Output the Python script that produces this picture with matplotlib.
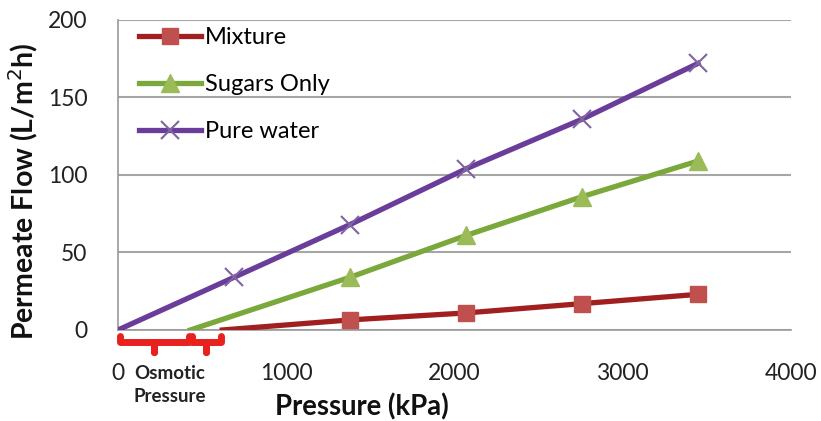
import matplotlib
matplotlib.use('Agg')
import matplotlib.pyplot as plt

plt.rcParams['font.family'] = ['Lato', 'DejaVu Sans']

# pressures (kPa); first point of each series is the osmotic-pressure intercept
pressure_mix = [620, 1379, 2069, 2758, 3447]
flow_mix = [0, 6.5, 11, 17, 23]

pressure_sugar = [430, 1379, 2069, 2758, 3447]
flow_sugar = [0, 34, 61, 86, 109]

pressure_water = [0, 690, 1379, 2069, 2758, 3447]
flow_water = [0, 34, 68, 104, 136, 172]

# osmotic pressure brackets (kPa)
brackets = [(0, 430), (430, 620)]

x_ticks = [0, 1000, 2000, 3000, 4000]
y_ticks = [0, 50, 100, 150, 200]

fig = plt.figure(figsize=(8.21, 4.21), dpi=100)
ax = fig.add_axes([0.1437, 0.2162, 0.8198, 0.7363])

ax.plot(pressure_mix, flow_mix, color='#A11F1F', lw=3.8, marker='s', ms=12,
        mfc='#C0504D', mec='#C0504D', markevery=range(1, 5), label='Mixture', zorder=3)
ax.plot(pressure_sugar, flow_sugar, color='#7BA83A', lw=3.8, marker='^', ms=13,
        mfc='#9BBB59', mec='#9BBB59', markevery=range(1, 5), label='Sugars Only', zorder=3)
ax.plot(pressure_water, flow_water, color='#6A3D9A', lw=3.8, marker='x', ms=13, mew=1.5,
        mec='#8064A2', markevery=range(1, 6), label='Pure water', zorder=3)

ax.set_xlim(0, 4000)
ax.set_ylim(0, 200)
ax.set_xticks(x_ticks)
ax.set_yticks(y_ticks)
ax.tick_params(axis='x', length=0, labelsize=16.5, pad=24, colors='#222222')
ax.tick_params(axis='y', length=0, labelsize=16.5, pad=22, colors='#222222')
ax.yaxis.grid(True, color='#A6A6A6', lw=1.5)
ax.set_axisbelow(True)
for s in ['top', 'right']:
    ax.spines[s].set_visible(False)
for s in ['left', 'bottom']:
    ax.spines[s].set_color('#9A9A9A')
    ax.spines[s].set_linewidth(1.2)

# brackets under the x axis
for x0, x1 in brackets:
    xm = (x0 + x1) / 2
    ax.plot([x0 + 10, x0 + 10, xm, xm, xm, x1 - 10, x1 - 10],
            [-4, -8, -8, -14, -8, -8, -4],
            color='#E8201E', lw=5, clip_on=False, solid_capstyle='round',
            solid_joinstyle='round', zorder=4)

fig.text(0.207, 0.085, 'Osmotic\nPressure', ha='center', va='center',
         fontsize=13.5, fontweight='bold', linespacing=1.45, color='#222222')

fig.text(0.441, 0.033, 'Pressure (kPa)', ha='center', va='center',
         fontsize=19.8, fontweight='bold', color='#111111')
fig.text(0.028, 0.546, 'Permeate Flow (L/m$^2$h)', ha='center', va='center',
         rotation=90, fontsize=20.5, fontweight='bold', color='#111111')

ax.legend(loc='upper left', bbox_to_anchor=(0.0, 1.045), frameon=False,
          fontsize=17, handlelength=2.6, labelspacing=1.1, handletextpad=0.2)

fig.savefig('out.png', dpi=100)
